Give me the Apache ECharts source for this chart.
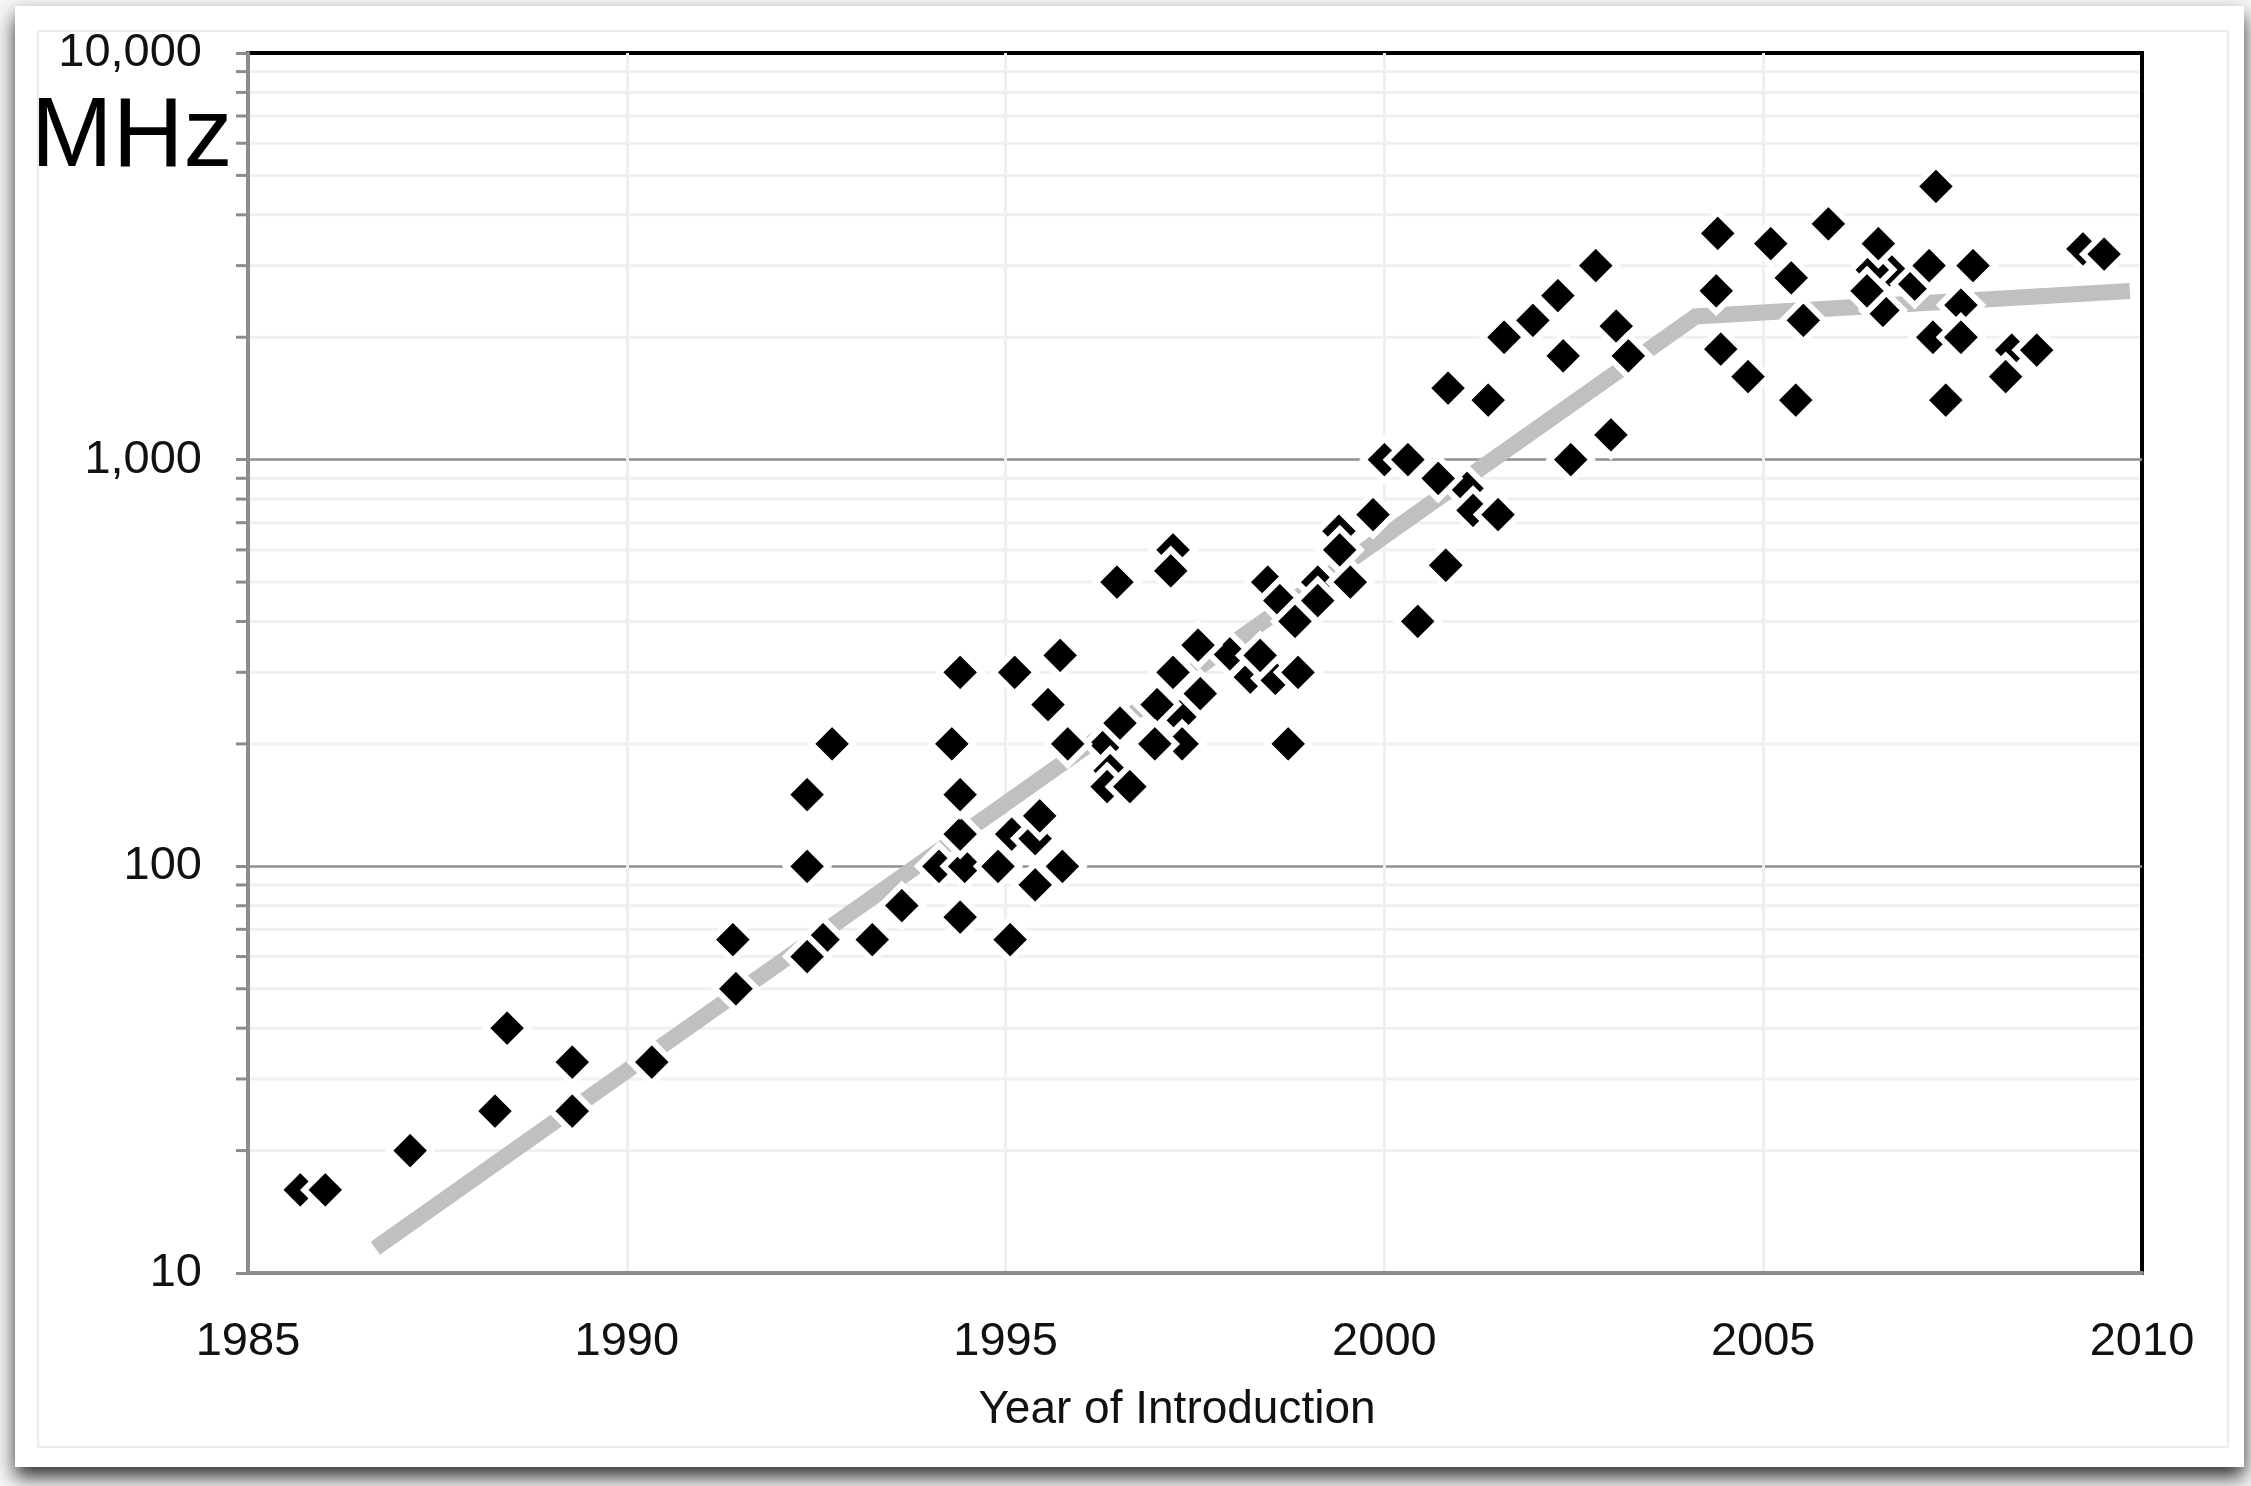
<!DOCTYPE html>
<html>
<head>
<meta charset="utf-8">
<script src="https://cdn.jsdelivr.net/npm/echarts@6/dist/echarts.min.js"></script>
<style>
html,body{margin:0;padding:0;background:#f6f6f6;}
#chart{width:2251px;height:1486px;}
</style>
</head>
<body>
<div id="chart"></div>
<script>
// ---- data ----
// partially hidden markers are listed first so later markers overlap them
const years = [
  1985.69, 1992.59, 1994.12, 1995.08, 1995.39, 1997.21, 1997.30, 1997.33, 1996.33, 1996.38,
  1996.34, 1997.96, 1998.23, 1998.56, 1999.40, 1998.46, 1998.62, 1999.12, 1998.82, 2000.00,
  2001.09, 2001.17, 2006.58, 2006.67, 2006.44, 2007.00, 2007.24, 2008.28, 2009.22,
  1986.02, 1987.14, 1988.26, 1988.42, 1989.28, 1989.28, 1990.33, 1991.44, 1991.40, 1992.38,
  1993.24, 1993.63, 1992.38, 1992.38, 1992.71, 1994.46, 1994.90, 1994.40, 1994.40, 1994.40,
  1994.29, 1994.40, 1995.06, 1995.12, 1995.45, 1995.39, 1995.75, 1995.72, 1995.56, 1995.82,
  1996.47, 1997.18, 1997.54, 1997.21, 1997.00, 1997.57, 1996.51, 1996.97, 1996.64, 1998.36,
  1998.86, 1998.73, 1999.41, 1999.85, 1999.12, 1999.55, 2000.31, 2000.44, 2000.81, 2000.71,
  2001.50, 2002.46, 2000.84, 2001.37, 2001.58, 2001.96, 2002.29, 2002.79, 2002.36, 2003.06,
  2003.22, 2002.99, 2004.38, 2004.44, 2004.80, 2005.43, 2005.37, 2005.53, 2004.40, 2005.10,
  2005.86, 2006.52, 2006.37, 2007.19, 2007.28, 2007.77, 2007.61, 2007.61, 2007.41, 2008.20,
  2008.61, 2009.50
];
const mhz = [
  16, 66, 100, 120, 117, 600, 233, 200, 200, 172,
  157, 333, 292, 290, 667, 500, 450, 500, 400, 1000,
  850, 750, 2330, 2930, 2930, 2700, 2000, 1860, 3300,
  16, 20, 25, 40, 33, 25, 33, 50, 66, 60,
  66, 80, 100, 150, 200, 100, 100, 75, 120, 150,
  200, 300, 66, 300, 133, 90, 100, 330, 250, 200,
  500, 533, 350, 300, 250, 266, 225, 200, 157, 330,
  300, 200, 600, 733, 450, 500, 1000, 400, 550, 900,
  733, 1000, 1500, 1400, 2000, 2200, 2530, 3000, 1800, 2130,
  1800, 1150, 2600, 1870, 1600, 1400, 2800, 2200, 3600, 3400,
  3800, 3400, 2600, 3000, 4700, 3000, 2400, 2000, 1400, 1600,
  1860, 3200
];
const trendYears = [1986.68, 2004.11, 2009.84];
const trendMHz = [11.5, 2250, 2600];
const xTicks = [1985, 1990, 1995, 2000, 2005, 2010];
const yMajor = [10, 100, 1000, 10000];
const yMinor = [20,30,40,50,60,70,80,90,200,300,400,500,600,700,800,900,2000,3000,4000,5000,6000,7000,8000,9000];

const FONT = "'Liberation Sans Narrow','Arial Narrow','Liberation Sans',Arial,sans-serif";
const chart = echarts.init(document.getElementById('chart'));

const points = years.map((y, i) => [y, mhz[i]]);
const trend = trendYears.map((y, i) => [y, trendMHz[i]]);
const minorData = yMinor.map(v => [xTicks[0], v]);

chart.setOption({
  backgroundColor: 'transparent',
  animation: false,
  graphic: [
    { type: 'rect', z: -20, shape: { x: 15, y: 6, width: 2229, height: 1461 },
      style: { fill: '#ffffff', shadowBlur: 18, shadowOffsetY: 10, shadowColor: 'rgba(0,0,0,0.8)' } },
    { type: 'rect', z: -19, shape: { x: 38, y: 31, width: 2190, height: 1416 },
      style: { fill: 'none', stroke: '#ececec', lineWidth: 2 } },
    { type: 'text', z: 10, left: 31, top: 90,
      style: { text: 'MHz', font: "98px 'Liberation Sans', Arial, sans-serif", fill: '#000' } }
  ],
  grid: {
    left: 248, right: 109, top: 53, bottom: 213,
    show: true, borderColor: '#000', borderWidth: 4, backgroundColor: 'transparent'
  },
  xAxis: {
    type: 'value', min: 1985, max: 2010, interval: 5,
    name: 'Year of Introduction', nameLocation: 'middle', nameGap: 114,
    nameTextStyle: { fontFamily: FONT, fontSize: 46, color: '#111', padding: [0, 36, 0, 0] },
    axisLine: { show: true, onZero: false, lineStyle: { color: '#8c8c8c', width: 4 } },
    axisTick: { show: false },
    axisLabel: { fontFamily: FONT, fontSize: 47, color: '#111', margin: 46,
      formatter: v => String(Math.round(v)) },
    splitLine: { show: true, showMinLine: false, showMaxLine: false,
      lineStyle: { color: '#edf0f0', width: 3 } }
  },
  yAxis: {
    type: 'log', logBase: 10, min: yMajor[0], max: yMajor[yMajor.length - 1],
    axisLine: { show: true, lineStyle: { color: '#8c8c8c', width: 4 } },
    axisTick: { show: true, length: 12, lineStyle: { color: '#8c8c8c', width: 3 } },
    axisLabel: { fontFamily: FONT, fontSize: 47, color: '#111', margin: 46,
      formatter: v => Math.round(v).toLocaleString('en-US') },
    splitLine: { show: true, showMinLine: false, showMaxLine: false,
      lineStyle: { color: '#8f8f8f', width: 2.5 } }
  },
  series: [
    {
      type: 'custom', z: 1, silent: true, clip: false,
      data: minorData,
      encode: { x: 0, y: 1 },
      renderItem: (params, api) => {
        const v = api.value(1);
        const p0 = api.coord([xTicks[0], v]);
        const p1 = api.coord([xTicks[xTicks.length - 1], v]);
        return { type: 'group', children: [
          { type: 'line', shape: { x1: p0[0] + 2, y1: p0[1], x2: p1[0] - 2, y2: p1[1] },
            style: { stroke: '#eef1f1', lineWidth: 3 } },
          { type: 'line', shape: { x1: p0[0] - 12, y1: p0[1], x2: p0[0], y2: p0[1] },
            style: { stroke: '#8c8c8c', lineWidth: 3 } }
        ] };
      }
    },
    {
      type: 'line', z: 3, silent: true, data: trend, symbol: 'none',
      lineStyle: { color: '#c0c0c0', width: 16, cap: 'butt', join: 'miter' }
    },
    {
      type: 'scatter', z: 4, data: points, symbol: 'diamond', symbolSize: 42,
      itemStyle: { color: '#000', borderColor: '#fff', borderWidth: 6, opacity: 1 }
    }
  ]
});
</script>
</body>
</html>
